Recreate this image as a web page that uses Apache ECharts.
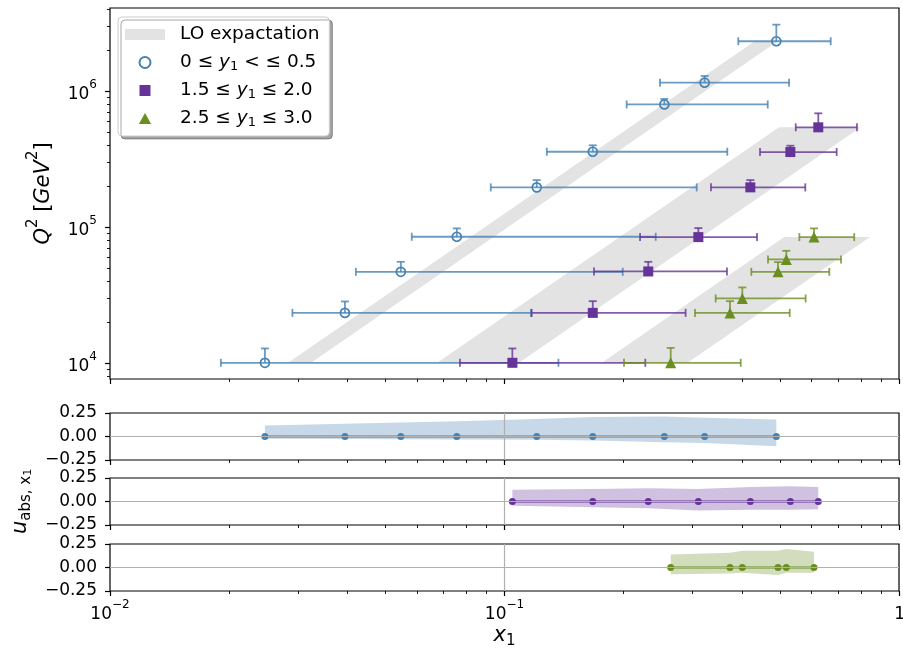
<!DOCTYPE html>
<html>
<head>
<meta charset="utf-8">
<script src="https://cdn.jsdelivr.net/npm/echarts@6/dist/echarts.min.js"></script>
<style>
  html, body { margin: 0; padding: 0; background: #ffffff; }
  #chart { width: 903px; height: 650px; }
</style>
</head>
<body>
<div id="chart"></div>
<script>
// ---------------- data ----------------
// rapidity bin 0 <= y1 <= 0.5
const blueX    = [0.0247, 0.0394, 0.0546, 0.0757, 0.1207, 0.1674, 0.2542, 0.3216, 0.4887];
const blueQ2   = [1.0e4, 2.33e4, 4.67e4, 8.46e4, 1.954e5, 3.573e5, 7.96e5, 1.151e6, 2.323e6];
const blueXLo  = [0.0191, 0.0290, 0.0420, 0.0582, 0.0923, 0.1280, 0.2040, 0.2478, 0.3914];
const blueXHi  = [0.1370, 0.1167, 0.1994, 0.2417, 0.3071, 0.3671, 0.4648, 0.5264, 0.6713];
const blueQ2Up = [1.275e4, 2.827e4, 5.534e4, 9.75e4, 2.211e5, 3.984e5, 8.733e5, 1.290e6, 3.077e6];
const blueULo  = [-0.025, -0.027, -0.029, -0.031, -0.035, -0.043, -0.060, -0.070, -0.104];
const blueU    = [0, 0, 0, 0, 0, 0, 0, 0, 0];
const blueUHi  = [0.118, 0.136, 0.150, 0.161, 0.185, 0.207, 0.214, 0.200, 0.182];

// rapidity bin 1.5 <= y1 <= 2.0
const purpleX    = [0.1047, 0.1674, 0.2314, 0.3100, 0.4199, 0.5304, 0.6243];
const purpleQ2   = [1.0e4, 2.33e4, 4.70e4, 8.41e4, 1.954e5, 3.555e5, 5.403e5];
const purpleXLo  = [0.0771, 0.1172, 0.1686, 0.2206, 0.3337, 0.4443, 0.5474];
const purpleXHi  = [0.2275, 0.2878, 0.3664, 0.4366, 0.5787, 0.6950, 0.7824];
const purpleQ2Up = [1.275e4, 2.841e4, 5.534e4, 9.80e4, 2.211e5, 3.957e5, 6.85e5];
const purpleULo  = [-0.046, -0.060, -0.071, -0.096, -0.089, -0.089, -0.082];
const purpleU    = [0, 0, 0, 0, 0, 0, 0];
const purpleUHi  = [0.125, 0.133, 0.140, 0.133, 0.154, 0.161, 0.154];

// rapidity bin 2.5 <= y1 <= 3.0
const greenX    = [0.2638, 0.3729, 0.4007, 0.4935, 0.5180, 0.6088];
const greenQ2   = [1.0e4, 2.33e4, 2.976e4, 4.67e4, 5.764e4, 8.414e4];
const greenXLo  = [0.2009, 0.3040, 0.3430, 0.4223, 0.4655, 0.5590];
const greenXHi  = [0.3970, 0.5285, 0.5799, 0.6658, 0.7129, 0.7701];
const greenQ2Up = [1.2875e4, 2.841e4, 3.585e4, 5.506e4, 6.668e4, 9.75e4];
const greenULo  = [-0.072, -0.064, -0.057, -0.079, -0.057, -0.057];
const greenU    = [0, 0, 0, 0, 0, 0];
const greenUHi  = [0.139, 0.157, 0.178, 0.178, 0.196, 0.167];

// LO expectation bands: x1 at the four corners, Q2 at bottom and top edges
const bandXBottomLeft  = [0.02827, 0.06753, 0.1765];
const bandXBottomRight = [0.03233, 0.1088, 0.2910];
const bandXTopRight    = [0.4925, 0.7995, 0.8444];
const bandXTopLeft     = [0.4308, 0.4964, 0.5119];
const bandQ2Low        = [1.0e4, 1.0e4, 1.0e4];
const bandQ2High       = [2.323e6, 5.403e5, 8.414e4];

// axis ranges and tick labels
const xRange      = [0.01, 1];
const q2Range     = [7600, 4.08e6];
const uRange      = [-0.25, 0.25];
const xMajorExp   = [-2, -1, 0];
const q2MajorExp  = [4, 5, 6];
const uTicks      = [-0.25, 0, 0.25];

const legendNames = ['LO expactation', '0 ≤ y1 < ≤ 0.5', '1.5 ≤ y1 ≤ 2.0', '2.5 ≤ y1 ≤ 3.0'];

// ---------------- styling ----------------
const FONT = 'DejaVu Sans';
const BLUE = '#4682b4', PURPLE = '#663399', GREEN = '#6b8e23', BAND = '#e3e3e3';
const GRID_LEFT = 110, GRID_W = 789;

const minorPositions = (lo, hi) => {
  const out = [];
  for (let n = Math.floor(lo) - 1; n <= Math.ceil(hi); n++) {
    for (let k = 2; k <= 9; k++) {
      const v = n + Math.log10(k);
      if (v > lo + 1e-9 && v < hi - 1e-9) out.push(v);
    }
  }
  return out;
};
const lg = Math.log10;
const xMinor = minorPositions(lg(xRange[0]), lg(xRange[1]));
const yMinor = minorPositions(lg(q2Range[0]), lg(q2Range[1]));

const expText = n => (n < 0 ? '−' + (-n) : String(n));
const powRich = {
  b: { fontFamily: FONT, fontSize: 17, color: '#000', lineHeight: 24, verticalAlign: 'bottom' },
  p: { fontFamily: FONT, fontSize: 12, color: '#000', lineHeight: 14, verticalAlign: 'top' },
  pad: { width: 20, lineHeight: 24 }
};
const powLabel = v => '{b|10}{p|' + expText(Math.round(v)) + '}';
// the label at the right end of the x range sits slightly right of its tick
const xPowLabel = v => (Math.round(v) === 0 ? '{pad|}' : '') + powLabel(v);

const grids = [
  { left: GRID_LEFT, top: 8,   width: GRID_W, height: 371 },
  { left: GRID_LEFT, top: 413, width: GRID_W, height: 47 },
  { left: GRID_LEFT, top: 478, width: GRID_W, height: 47 },
  { left: GRID_LEFT, top: 544, width: GRID_W, height: 47 }
].map(g => Object.assign({
  show: true, borderColor: '#000', borderWidth: 1.2, backgroundColor: 'transparent',
  containLabel: false, outerBoundsMode: 'none'
}, g));

// x axes: per grid a log axis carrying the data, plus major and minor tick axes in log10 units
const xAxes = [];
grids.forEach((g, gi) => {
  xAxes.push({ type: 'log', logBase: 10, gridIndex: gi, min: xRange[0], max: xRange[1], show: false });
  const major = {
    type: 'value', gridIndex: gi, position: 'bottom', min: lg(xRange[0]), max: lg(xRange[1]),
    axisLine: { show: false, onZero: false },
    axisTick: { show: true, customValues: xMajorExp, length: 5, lineStyle: { color: '#000', width: 1.2 } },
    axisLabel: { show: gi === 3, customValues: xMajorExp, formatter: xPowLabel, rich: powRich, margin: 8, hideOverlap: false },
    splitLine: { show: false }
  };
  if (gi === 3) {
    Object.assign(major, {
      name: '{i|x}{s|1}', nameLocation: 'middle', nameGap: 32,
      nameTextStyle: {
        rich: {
          i: { fontFamily: FONT, fontSize: 21, fontStyle: 'italic', color: '#000', lineHeight: 26, verticalAlign: 'middle' },
          s: { fontFamily: FONT, fontSize: 15, color: '#000', lineHeight: 16, verticalAlign: 'bottom' }
        }
      }
    });
  }
  xAxes.push(major);
  xAxes.push({
    type: 'value', gridIndex: gi, position: 'bottom', min: lg(xRange[0]), max: lg(xRange[1]),
    axisLine: { show: false, onZero: false },
    axisTick: { show: true, customValues: xMinor, length: 3, lineStyle: { color: '#000', width: 0.9 } },
    axisLabel: { show: false },
    splitLine: { show: false }
  });
});

const uRich = {
  i: { fontFamily: FONT, fontSize: 21, fontStyle: 'italic', color: '#000', lineHeight: 26, verticalAlign: 'middle' },
  s: { fontFamily: FONT, fontSize: 15, color: '#000', lineHeight: 16, verticalAlign: 'bottom' },
  ss: { fontFamily: FONT, fontSize: 11, color: '#000', lineHeight: 12, verticalAlign: 'bottom' }
};

const yAxes = [
  { type: 'log', logBase: 10, gridIndex: 0, min: q2Range[0], max: q2Range[1], show: false },
  {
    type: 'value', gridIndex: 0, position: 'left', min: lg(q2Range[0]), max: lg(q2Range[1]),
    axisLine: { show: false, onZero: false },
    axisTick: { show: true, customValues: q2MajorExp, length: 5, lineStyle: { color: '#000', width: 1.2 } },
    axisLabel: { customValues: q2MajorExp, formatter: powLabel, rich: powRich, margin: 13 },
    splitLine: { show: false },
    name: '{i|Q}{p|2}{t| [}{i|GeV}{p|2}{t|]}', nameLocation: 'middle', nameRotate: 90, nameGap: 56,
    nameTextStyle: {
      rich: {
        i: { fontFamily: FONT, fontSize: 21, fontStyle: 'italic', color: '#000', lineHeight: 28, verticalAlign: 'bottom' },
        t: { fontFamily: FONT, fontSize: 21, color: '#000', lineHeight: 28, verticalAlign: 'bottom' },
        p: { fontFamily: FONT, fontSize: 15, color: '#000', lineHeight: 16, verticalAlign: 'top' }
      }
    }
  },
  {
    type: 'value', gridIndex: 0, position: 'left', min: lg(q2Range[0]), max: lg(q2Range[1]),
    axisLine: { show: false, onZero: false },
    axisTick: { show: true, customValues: yMinor, length: 3, lineStyle: { color: '#000', width: 0.9 } },
    axisLabel: { show: false },
    splitLine: { show: false }
  }
];
[1, 2, 3].forEach(gi => {
  const ax = {
    type: 'value', gridIndex: gi, position: 'left', min: uRange[0], max: uRange[1],
    axisLine: { show: false, onZero: false },
    axisTick: { show: true, customValues: uTicks, length: 5, lineStyle: { color: '#000', width: 1.2 } },
    axisLabel: {
      customValues: uTicks, margin: 13, fontFamily: FONT, fontSize: 17, color: '#000',
      formatter: v => v.toFixed(2).replace('-', '−')
    },
    splitLine: { show: false }
  };
  if (gi === 2) {
    Object.assign(ax, {
      name: '{i|u}{s|abs, x}{ss|1}', nameLocation: 'middle', nameRotate: 90, nameGap: 68,
      nameTextStyle: { rich: uRich }
    });
  }
  yAxes.push(ax);
});

// ---------------- series ----------------
const errorBars = (name, color, xs, qs, xlo, xhi, qhi) => ({
  type: 'custom', name: name, xAxisIndex: 0, yAxisIndex: 0, z: 2, silent: true,
  data: xs.map((x, i) => [x, qs[i], xlo[i], xhi[i], qhi[i]]),
  encode: { x: [0, 2, 3], y: [1, 4] },
  renderItem: (params, api) => {
    const p = api.coord([api.value(0), api.value(1)]);
    const l = api.coord([api.value(2), api.value(1)]);
    const r = api.coord([api.value(3), api.value(1)]);
    const u = api.coord([api.value(0), api.value(4)]);
    const cap = 4;
    const style = { stroke: color, lineWidth: 1.8, opacity: 0.8 };
    const seg = (x1, y1, x2, y2) => ({ type: 'line', shape: { x1, y1, x2, y2 }, style });
    return {
      type: 'group',
      children: [
        seg(l[0], l[1], r[0], r[1]),
        seg(l[0], l[1] - cap, l[0], l[1] + cap),
        seg(r[0], r[1] - cap, r[0], r[1] + cap),
        seg(p[0], p[1], u[0], u[1]),
        seg(u[0] - cap, u[1], u[0] + cap, u[1])
      ]
    };
  }
});

const points = (name, color, xs, qs, symbol, size, hollow) => ({
  type: 'scatter', name: name, xAxisIndex: 0, yAxisIndex: 0, z: 3, silent: true,
  data: xs.map((x, i) => [x, qs[i]]),
  symbol: symbol, symbolSize: size,
  itemStyle: hollow
    ? { color: 'rgba(255,255,255,0)', borderColor: color, borderWidth: 1.7, opacity: 1 }
    : { color: color, opacity: 1 }
});

const uncertaintyBand = (gi, color, xs, lo, hi) => ({
  type: 'custom', name: 'band' + gi, xAxisIndex: 3 * gi, yAxisIndex: 2 + gi, z: 1, silent: true,
  data: xs.map((x, i) => [x, lo[i], hi[i]]),
  encode: { x: 0, y: [1, 2] },
  renderItem: (params, api) => {
    if (params.dataIndexInside !== 0) return null;
    const n = params.dataInsideLength;
    const upper = [], lower = [];
    for (let i = 0; i < n; i++) {
      upper.push(api.coord([api.value(0, i), api.value(2, i)]));
      lower.push(api.coord([api.value(0, i), api.value(1, i)]));
    }
    return { type: 'polygon', shape: { points: upper.concat(lower.reverse()) }, style: { fill: color, opacity: 0.3 } };
  },
  markLine: {
    silent: true, symbol: 'none', label: { show: false }, animation: false,
    lineStyle: { color: '#b0b0b0', width: 1.2, type: 'solid' },
    data: [{ xAxis: 0.1 }, { yAxis: 0 }]
  }
});

const centralLine = (gi, color, xs, us) => ({
  type: 'line', name: 'line' + gi, xAxisIndex: 3 * gi, yAxisIndex: 2 + gi, z: 3, silent: true,
  data: xs.map((x, i) => [x, us[i]]),
  symbol: 'circle', symbolSize: 7, showSymbol: true,
  lineStyle: { color: color, width: 1.8 },
  itemStyle: { color: color, opacity: 1 }
});

const series = [
  {
    type: 'custom', name: legendNames[0], xAxisIndex: 0, yAxisIndex: 0, z: 1, silent: true,
    itemStyle: { color: BAND },
    data: bandQ2Low.map((q, i) => [bandXBottomLeft[i], bandXBottomRight[i], bandXTopRight[i], bandXTopLeft[i], q, bandQ2High[i]]),
    encode: { x: [0, 1, 2, 3], y: [4, 5] },
    renderItem: (params, api) => {
      const pts = [
        api.coord([api.value(0), api.value(4)]),
        api.coord([api.value(1), api.value(4)]),
        api.coord([api.value(2), api.value(5)]),
        api.coord([api.value(3), api.value(5)])
      ];
      return { type: 'polygon', shape: { points: pts }, style: { fill: BAND } };
    }
  },
  errorBars('err1', BLUE, blueX, blueQ2, blueXLo, blueXHi, blueQ2Up),
  errorBars('err2', PURPLE, purpleX, purpleQ2, purpleXLo, purpleXHi, purpleQ2Up),
  errorBars('err3', GREEN, greenX, greenQ2, greenXLo, greenXHi, greenQ2Up),
  points(legendNames[1], BLUE, blueX, blueQ2, 'circle', 9, true),
  points(legendNames[2], PURPLE, purpleX, purpleQ2, 'rect', 10, false),
  points(legendNames[3], GREEN, greenX, greenQ2, 'triangle', 11, false),
  uncertaintyBand(1, BLUE, blueX, blueULo, blueUHi),
  uncertaintyBand(2, PURPLE, purpleX, purpleULo, purpleUHi),
  uncertaintyBand(3, GREEN, greenX, greenULo, greenUHi),
  centralLine(1, BLUE, blueX, blueU),
  centralLine(2, PURPLE, purpleX, purpleU),
  centralLine(3, GREEN, greenX, greenU)
];

const legendText = {};
legendText[legendNames[0]] = 'LO expactation';
legendText[legendNames[1]] = '0 ≤ {i|y}{s|1} < ≤ 0.5';
legendText[legendNames[2]] = '1.5 ≤ {i|y}{s|1} ≤ 2.0';
legendText[legendNames[3]] = '2.5 ≤ {i|y}{s|1} ≤ 3.0';

const option = {
  animation: false,
  backgroundColor: '#ffffff',
  grid: grids,
  xAxis: xAxes,
  yAxis: yAxes,
  legend: {
    left: 118, top: 17, orient: 'vertical',
    padding: [7, 10, 7, 7], itemGap: 7, itemWidth: 40, itemHeight: 11,
    symbolKeepAspect: true,
    backgroundColor: '#ffffff', borderColor: '#cccccc', borderWidth: 1, borderRadius: 4,
    shadowColor: 'rgba(0,0,0,0.35)', shadowOffsetX: 3, shadowOffsetY: 3, shadowBlur: 0,
    selectedMode: false,
    data: [
      { name: legendNames[0], icon: 'rect', itemStyle: { color: BAND } },
      { name: legendNames[1], icon: 'circle' },
      { name: legendNames[2], icon: 'path://M0,0L10,0L10,10L0,10Z' },
      { name: legendNames[3], icon: 'path://M5,0L10,9L0,9Z' }
    ],
    formatter: name => legendText[name],
    textStyle: {
      fontFamily: FONT, fontSize: 18.5, color: '#000', lineHeight: 21, padding: [0, 0, 0, 10],
      rich: {
        i: { fontFamily: FONT, fontSize: 18.5, fontStyle: 'italic', color: '#000', lineHeight: 21, verticalAlign: 'middle' },
        s: { fontFamily: FONT, fontSize: 13, color: '#000', lineHeight: 13, verticalAlign: 'bottom' }
      }
    }
  },
  series: series
};

const chart = echarts.init(document.getElementById('chart'), null, { renderer: 'canvas' });
chart.setOption(option);
</script>
</body>
</html>
